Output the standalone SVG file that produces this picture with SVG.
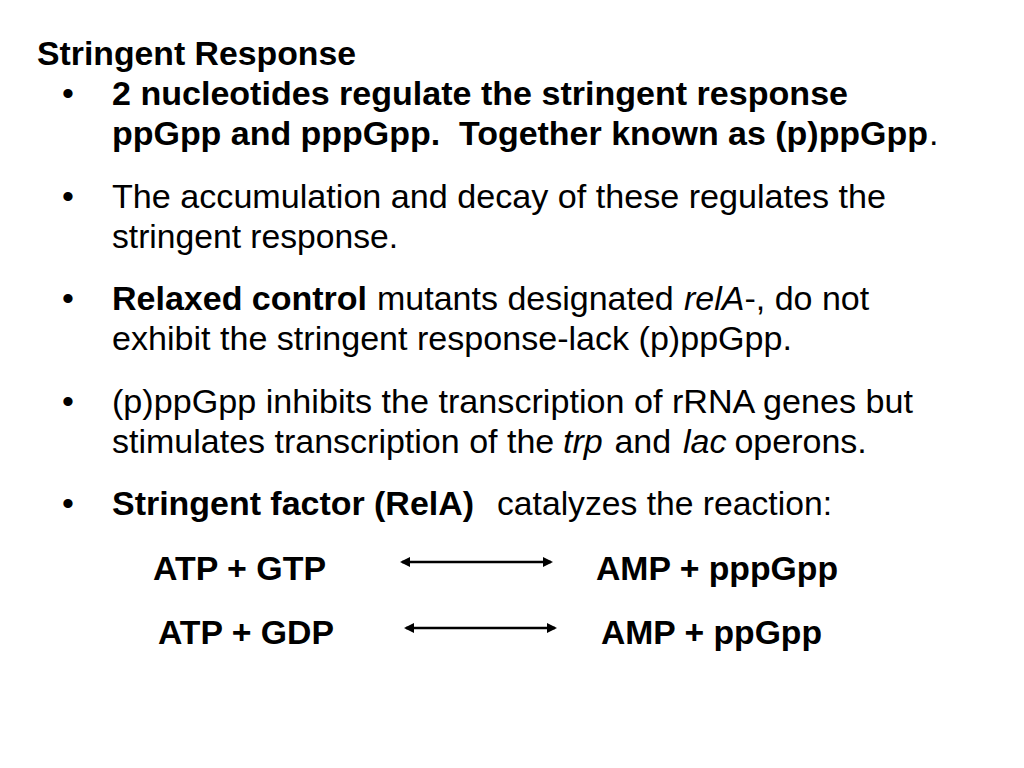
<svg xmlns="http://www.w3.org/2000/svg" width="1024" height="768" viewBox="0 0 1024 768">
<style>
text{font-family:"Liberation Sans",Arial,Helvetica,sans-serif;font-size:34px;fill:#000;white-space:pre}
.b{font-weight:bold}
.i{font-style:italic}
.conn{stroke:#000;stroke-width:2.5;fill:none;marker-start:url(#ah);marker-end:url(#ah)}
</style>
<defs>
<marker id="ah" viewBox="0 0 10 10" refX="8" refY="5" markerWidth="4.5" markerHeight="4" orient="auto-start-reverse" markerUnits="strokeWidth">
<path d="M0,0 L10,5 L0,10 z" fill="#000"/>
</marker>
</defs>
<rect width="1024" height="768" fill="#fff"/>
<g id="title"><text class="b" x="37" y="65" textLength="319" lengthAdjust="spacingAndGlyphs">Stringent Response</text></g>
<g id="bullet1">
<text x="62" y="105">•</text>
<text class="b" x="112" y="105" textLength="736" lengthAdjust="spacingAndGlyphs">2 nucleotides regulate the stringent response</text>
<text class="b" x="112" y="145" textLength="816" lengthAdjust="spacingAndGlyphs">ppGpp and pppGpp.  Together known as (p)ppGpp</text>
<text x="929" y="145">.</text>
</g>
<g id="bullet2">
<text x="62" y="208">•</text>
<text x="112" y="208" textLength="774" lengthAdjust="spacingAndGlyphs">The accumulation and decay of these regulates the</text>
<text x="112" y="248" textLength="286" lengthAdjust="spacingAndGlyphs">stringent response.</text>
</g>
<g id="bullet3">
<text x="62" y="310">•</text>
<text x="112" y="310"><tspan class="b">Relaxed control</tspan><tspan x="377">mutants designated</tspan><tspan class="i" x="684">relA</tspan><tspan>-, do not</tspan></text>
<text x="112" y="350" textLength="680" lengthAdjust="spacingAndGlyphs">exhibit the stringent response-lack (p)ppGpp.</text>
</g>
<g id="bullet4">
<text x="62" y="413">•</text>
<text x="112" y="413" textLength="801" lengthAdjust="spacingAndGlyphs">(p)ppGpp inhibits the transcription of rRNA genes but</text>
<text x="112" y="453">stimulates transcription of the <tspan class="i" x="563">trp</tspan><tspan x="605"> and </tspan><tspan class="i" x="683">lac</tspan><tspan x="725"> operons.</tspan></text>
</g>
<g id="bullet5">
<text x="62" y="515">•</text>
<text class="b" x="112" y="515" textLength="362" lengthAdjust="spacingAndGlyphs">Stringent factor (RelA)</text>
<text x="497" y="515" textLength="335" lengthAdjust="spacingAndGlyphs">catalyzes the reaction:</text>
</g>
<g id="reaction1">
<text class="b" x="153" y="580" textLength="173" lengthAdjust="spacingAndGlyphs">ATP + GTP</text>
<text class="b" x="596" y="580" textLength="242" lengthAdjust="spacingAndGlyphs">AMP + pppGpp</text>
</g>
<g id="reaction2">
<text class="b" x="158" y="644" textLength="176" lengthAdjust="spacingAndGlyphs">ATP + GDP</text>
<text class="b" x="601" y="644" textLength="221" lengthAdjust="spacingAndGlyphs">AMP + ppGpp</text>
</g>
<g id="connectors">
<line class="conn" x1="402" y1="562" x2="551" y2="562"/>
<line class="conn" x1="406" y1="628" x2="555" y2="628"/>
</g>
</svg>
